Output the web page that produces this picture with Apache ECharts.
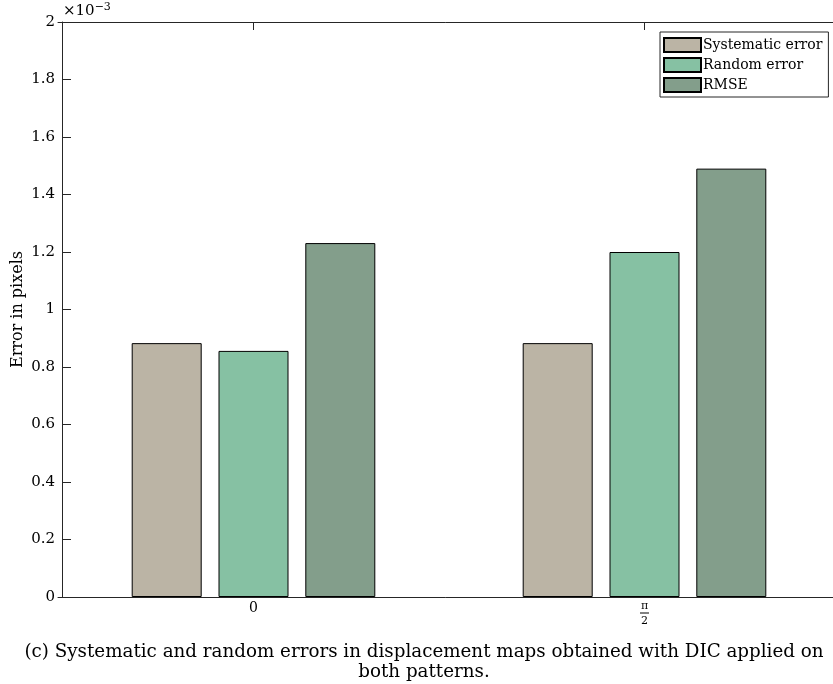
<!DOCTYPE html>
<html>
<head>
<meta charset="utf-8">
<script src="https://cdn.jsdelivr.net/npm/echarts@6/dist/echarts.min.js"></script>
<style>
  html, body { margin: 0; padding: 0; background: #ffffff; }
  #chart { width: 833px; height: 684px; }
</style>
</head>
<body>
<div id="chart"></div>
<script>
// Group labels (pattern orientation) and error values in pixels
const categories = ['0', 'π/2'];
const systematicError = [0.000883, 0.000883];
const randomError = [0.000856, 0.001200];
const rmse = [0.001231, 0.001490];
const yTickValues = [0, 0.2, 0.4, 0.6, 0.8, 1, 1.2, 1.4, 1.6, 1.8, 2]; // ×10^-3

const serif = '"DejaVu Serif", "Liberation Serif", serif';
const axisColor = '#262626';
const captionText = '(c) Systematic and random errors in displacement maps obtained with DIC applied on\nboth patterns.';

const chart = echarts.init(document.getElementById('chart'), null, { renderer: 'canvas' });

const barStyle = (color) => ({
  color: color,
  borderColor: '#000000',
  borderWidth: 1
});

const option = {
  animation: false,
  backgroundColor: '#ffffff',
  grid: { left: 58, right: -7, top: 22, bottom: 87, containLabel: false, outerBoundsMode: 'none' },
  legend: {
    orient: 'vertical',
    left: 660,
    top: 32,
    padding: [5, 6, 4, 3],
    itemGap: 4,
    itemWidth: 37,
    itemHeight: 14,
    borderColor: axisColor,
    borderWidth: 1,
    backgroundColor: '#ffffff',
    borderRadius: 0,
    icon: 'rect',
    textStyle: { fontFamily: serif, fontSize: 14, color: '#000000', padding: [0, 0, 0, -3], lineHeight: 16 },
    data: ['Systematic error', 'Random error', 'RMSE']
  },
  xAxis: [
    {
      type: 'category',
      data: categories,
      position: 'bottom',
      axisLine: { show: true, lineStyle: { color: axisColor, width: 1 } },
      axisTick: { show: true, inside: true, length: 8, alignWithLabel: true, lineStyle: { color: axisColor } },
      axisLabel: {
        color: '#000000',
        fontFamily: serif,
        fontSize: 14,
        margin: 4,
        formatter: (v) => v === 'π/2' ? '{n|π}\n{bar|}\n{d|2}' : v,
        rich: {
          n: { fontFamily: serif, fontSize: 11, lineHeight: 10, color: '#000' },
          bar: { width: 9, height: 1, backgroundColor: '#000000', lineHeight: 4 },
          d: { fontFamily: serif, fontSize: 11, lineHeight: 12, color: '#000' }
        }
      },
      splitLine: { show: false }
    },
    {
      type: 'category',
      data: categories,
      position: 'top',
      axisLine: { show: true, lineStyle: { color: axisColor, width: 1 } },
      axisTick: { show: true, inside: true, length: 8, alignWithLabel: true, lineStyle: { color: axisColor } },
      axisLabel: { show: false },
      splitLine: { show: false }
    }
  ],
  yAxis: [
    {
      type: 'value',
      min: 0,
      max: 0.002,
      interval: 0.0002,
      position: 'left',
      offset: -4,
      name: 'Error in pixels',
      nameLocation: 'middle',
      nameGap: 36,
      nameMoveOverlap: false,
      nameTextStyle: { fontFamily: serif, fontSize: 16, color: '#000000' },
      axisLine: { show: true, lineStyle: { color: axisColor, width: 1 } },
      axisTick: { show: true, inside: true, length: 9, lineStyle: { color: axisColor } },
      axisLabel: {
        color: '#000000',
        fontFamily: serif,
        fontSize: 15,
        margin: 7,
        formatter: (v) => {
          const scaled = Math.round(v * 10000) / 10;
          const match = yTickValues.find((t) => Math.abs(t - scaled) < 1e-9);
          return String(match !== undefined ? match : scaled);
        }
      },
      splitLine: { show: false }
    }
  ],
  graphic: [
    {
      type: 'text',
      left: 63,
      top: 2,
      style: {
        text: '×10{sup|−3}',
        fontFamily: serif,
        fontSize: 15,
        fill: '#000000',
        rich: { sup: { fontFamily: serif, fontSize: 11, verticalAlign: 'top', padding: [0, 0, 7, 0] } }
      }
    },
    {
      type: 'text',
      x: 424,
      y: 642,
      style: {
        text: captionText,
        fontFamily: serif,
        fontSize: 18.3,
        lineHeight: 20,
        fill: '#000000',
        align: 'center',
        verticalAlign: 'top'
      }
    }
  ],
  series: [
    {
      name: 'Systematic error',
      type: 'bar',
      data: systematicError,
      barWidth: 70,
      barGap: '24%',
      itemStyle: barStyle('#bbb4a5')
    },
    {
      name: 'Random error',
      type: 'bar',
      data: randomError,
      barWidth: 70,
      barGap: '24%',
      itemStyle: barStyle('#86c1a3')
    },
    {
      name: 'RMSE',
      type: 'bar',
      data: rmse,
      barWidth: 70,
      barGap: '24%',
      itemStyle: barStyle('#839e8b')
    }
  ]
};

chart.setOption(option);
</script>
</body>
</html>
